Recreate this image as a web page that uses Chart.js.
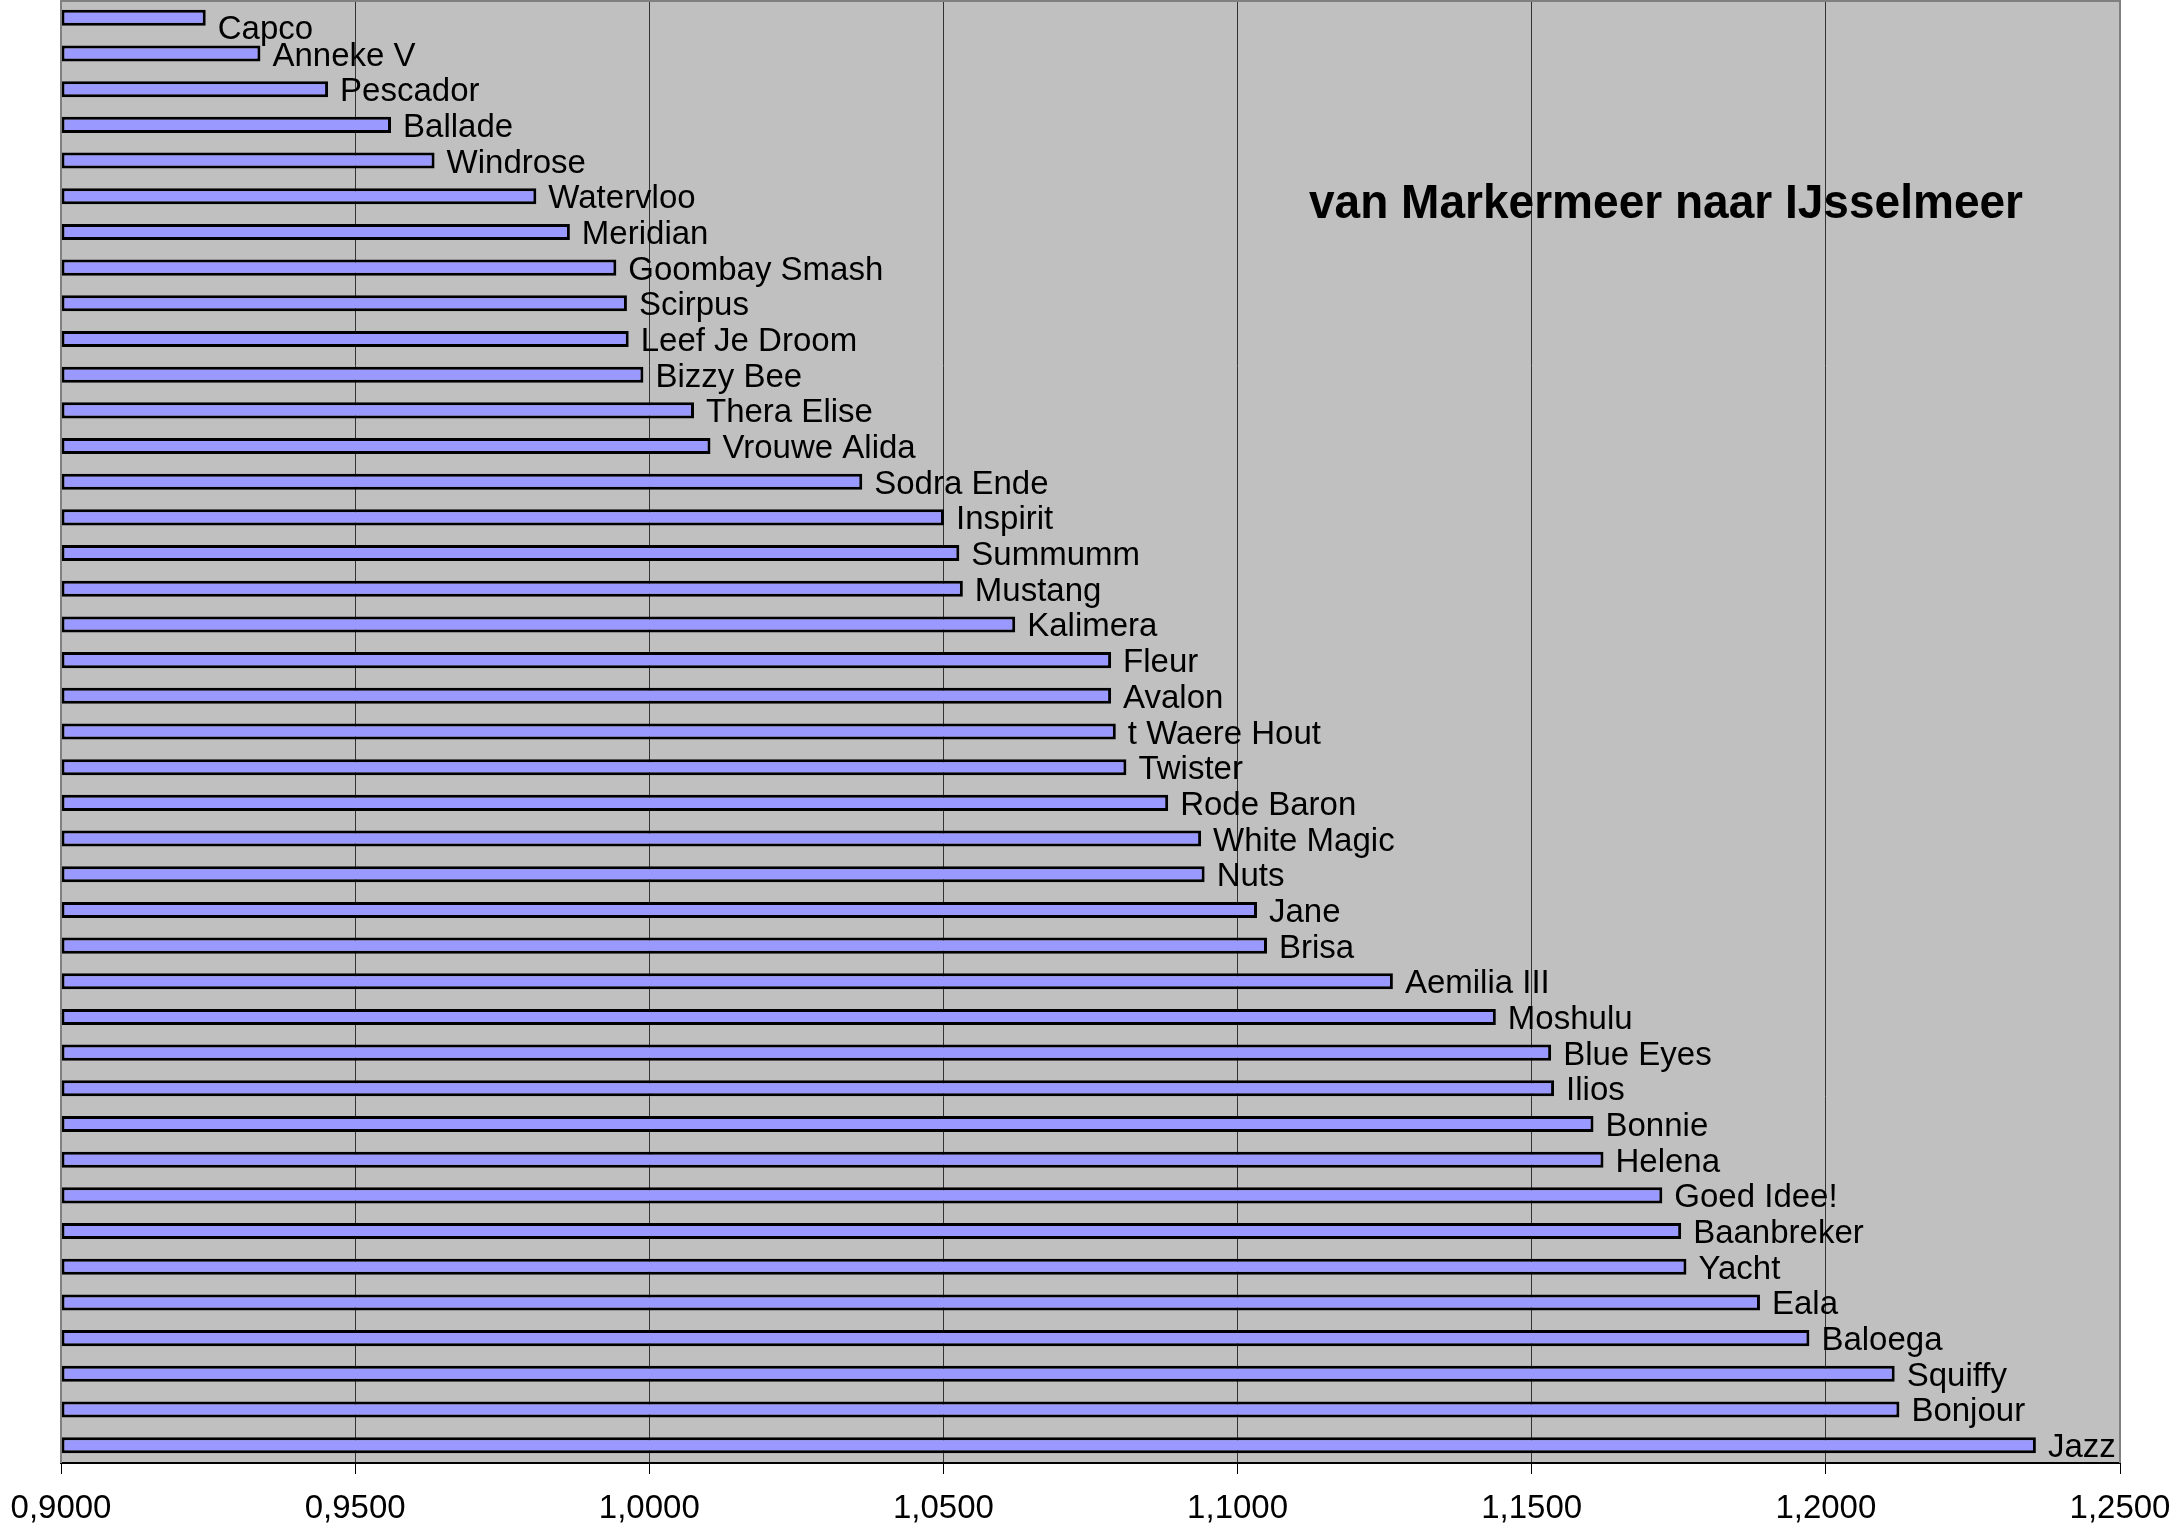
<!DOCTYPE html>
<html>
<head>
<meta charset="utf-8">
<script src="https://cdn.jsdelivr.net/npm/chart.js@4/dist/chart.umd.min.js"></script>
<style>
  html, body { margin: 0; padding: 0; background: #fff; }
  #wrap { width: 2183px; height: 1530px; }
</style>
</head>
<body>
<div id="wrap"><canvas id="chart" width="2183" height="1530"></canvas></div>
<script>
// Boten, van boven naar beneden
const boats = ['Capco', 'Anneke V', 'Pescador', 'Ballade', 'Windrose', 'Watervloo', 'Meridian',
  'Goombay Smash', 'Scirpus', 'Leef Je Droom', 'Bizzy Bee', 'Thera Elise', 'Vrouwe Alida',
  'Sodra Ende', 'Inspirit', 'Summumm', 'Mustang', 'Kalimera', 'Fleur', 'Avalon', 't Waere Hout',
  'Twister', 'Rode Baron', 'White Magic', 'Nuts', 'Jane', 'Brisa', 'Aemilia III', 'Moshulu',
  'Blue Eyes', 'Ilios', 'Bonnie', 'Helena', 'Goed Idee!', 'Baanbreker', 'Yacht', 'Eala',
  'Baloega', 'Squiffy', 'Bonjour', 'Jazz'];

const ratings = [0.9246, 0.9339, 0.9454, 0.9561, 0.9635, 0.9808, 0.9865,
  0.9944, 0.9962, 0.9965, 0.9990, 1.0076, 1.0104,
  1.0362, 1.0501, 1.0527, 1.0533, 1.0622, 1.0785, 1.0785, 1.0793,
  1.0811, 1.0882, 1.0938, 1.0944, 1.1033, 1.1050, 1.1264, 1.1439,
  1.1533, 1.1538, 1.1605, 1.1622, 1.1722, 1.1754, 1.1763, 1.1888,
  1.1972, 1.2117, 1.2125, 1.2357];

const xTickValues = [0.90, 0.95, 1.00, 1.05, 1.10, 1.15, 1.20, 1.25];

const chartTitle = 'van Markermeer naar IJsselmeer';

const FONT = "'Liberation Sans', Arial, Helvetica, sans-serif";
Chart.defaults.font.family = FONT;
Chart.defaults.color = '#000';

// achtergrond en kader van het plotgebied
const plotArea = {
  id: 'plotArea',
  beforeDraw(chart) {
    const { ctx, chartArea: a } = chart;
    ctx.save();
    ctx.fillStyle = '#c0c0c0';
    ctx.fillRect(a.left, a.top, a.right - a.left, a.bottom - a.top);
    ctx.restore();
  },
  afterDraw(chart) {
    const { ctx, chartArea: a } = chart;
    ctx.save();
    ctx.strokeStyle = '#808080';
    ctx.lineWidth = 2;
    ctx.beginPath();
    ctx.moveTo(a.left, a.bottom);
    ctx.lineTo(a.left, a.top + 1);
    ctx.lineTo(a.right, a.top + 1);
    ctx.lineTo(a.right, a.bottom);
    ctx.stroke();
    ctx.restore();
  }
};

// namen achter de balken + titel
const barLabels = {
  id: 'barLabels',
  afterDatasetsDraw(chart) {
    const { ctx, chartArea: a } = chart;
    const meta = chart.getDatasetMeta(0);
    ctx.save();
    ctx.fillStyle = '#000';
    ctx.font = '33px ' + FONT;
    ctx.textAlign = 'left';
    ctx.textBaseline = 'alphabetic';
    meta.data.forEach((bar, i) => {
      const y = Math.max(bar.y, a.top + 27);
      ctx.fillText(boats[i], bar.x + 12, y + 12);
    });

    // titel, iets smaller gezet zoals in het origineel
    ctx.font = 'bold 49px ' + FONT;
    const w = ctx.measureText(chartTitle).width;
    ctx.translate(1309, 218);
    ctx.scale(714 / w, 1);
    ctx.fillText(chartTitle, 0, 0);
    ctx.restore();
  }
};

const ctx = document.getElementById('chart');
const myChart = new Chart(ctx, {
  type: 'bar',
  data: {
    labels: boats,
    datasets: [{
      data: ratings,
      base: 0.9,
      backgroundColor: '#9999ff',
      borderColor: '#000',
      borderWidth: 3,
      borderSkipped: false,
      categoryPercentage: 1,
      barPercentage: 0.45
    }]
  },
  options: {
    indexAxis: 'y',
    responsive: false,
    animation: false,
    layout: { padding: { left: 61, right: 63, top: 0, bottom: 0 } },
    plugins: {
      legend: { display: false },
      tooltip: { enabled: false },
      title: { display: false }
    },
    scales: {
      y: { display: false },
      x: {
        type: 'linear',
        min: 0.9,
        max: 1.25,
        afterBuildTicks: (scale) => {
          scale.ticks = xTickValues.map(v => ({ value: v }));
        },
        afterFit: (scale) => {
          scale.height = 67;
          scale.paddingLeft = 0;
          scale.paddingRight = 0;
        },
        grid: {
          color: '#333333',
          lineWidth: 1,
          tickLength: 11,
          tickColor: '#000',
          tickWidth: 1
        },
        border: { color: '#000', width: 2 },
        ticks: {
          font: { size: 33 },
          color: '#000',
          padding: 15,
          maxRotation: 0,
          callback: (v) => Number(v).toFixed(4).replace('.', ',')
        }
      }
    }
  },
  plugins: [plotArea, barLabels]
});
</script>
</body>
</html>
